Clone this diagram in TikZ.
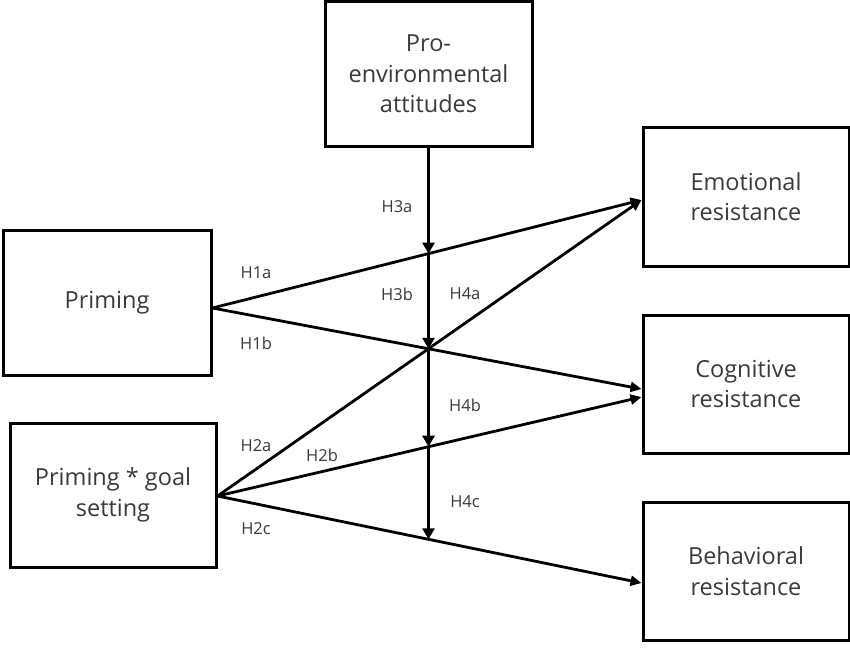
\documentclass[tikz,border=0pt]{standalone}
\usepackage{fontspec}
\setmainfont{Open Sans}
\usetikzlibrary{arrows.meta,intersections}
\definecolor{txt}{HTML}{3A3A3A}
\tikzset{
  box/.style={draw=black, line width=3pt, minimum width=#1, align=center, text=txt,
    font=\fontsize{23.5}{30.5}\selectfont, inner sep=0pt},
  lab/.style={text=txt, font=\fontsize{16.5}{18}\selectfont, inner sep=0pt},
  conn/.style={line width=2.8pt, -{Triangle[length=11pt,width=10pt]}},
  vconn/.style={line width=2.8pt, -{Triangle[length=11pt,width=12pt]}}
}
\begin{document}
\begin{tikzpicture}[x=1pt,y=-1pt]
\useasboundingbox (0,0) rectangle (850,658);
% boxes
\node[box=207pt, minimum height=144pt] (env) at (428.5,74) {Pro-\\environmental\\attitudes};
\node[box=208pt, minimum height=145pt] (prim) at (107,302.5) {Priming};
\node[box=206pt, minimum height=144pt] (goal) at (113,495) {Priming * goal\\setting};
\node[box=206pt, minimum height=139pt] (emo) at (746,196.5) {Emotional\\resistance};
\node[box=206pt, minimum height=138pt] (cog) at (746,384) {Cognitive\\resistance};
\node[box=206pt, minimum height=138pt] (beh) at (746,571) {Behavioral\\resistance};
% anchor points
\coordinate (ps) at (prim.east |- 0,308);
\coordinate (gs) at (goal.east |- 0,496);
\coordinate (emoT) at (emo.west |- 0,200);
\coordinate (cogT1) at (cog.west |- 0,389);
\coordinate (cogT2) at (cog.west |- 0,397);
\coordinate (behT) at (beh.west |- 0,583);
% paths for intersections
\path[name path=vert] (env.south) -- ++(0,450);
\path[name path=h1a] (ps) -- (emoT);
\path[name path=h1b] (ps) -- (cogT1);
\path[name path=h2b] (gs) -- (cogT2);
\path[name path=h2c] (gs) -- (behT);
\path[name intersections={of=vert and h1a, by=c1}];
\path[name intersections={of=vert and h1b, by=c2}];
\path[name intersections={of=vert and h2b, by=c3}];
\path[name intersections={of=vert and h2c, by=c4}];
% connectors
\draw[conn] (ps) -- (emoT);
\draw[conn] (ps) -- (cogT1);
\draw[conn] (gs) -- (emoT);
\draw[conn] (gs) -- (cogT2);
\draw[conn] (gs) -- (behT);
\draw[vconn] (env.south) -- (c1);
\draw[vconn] (c1) -- (c2);
\draw[vconn] (c2) -- (c3);
\draw[vconn] (c3) -- (c4);
% labels
\node[lab] (l3a) at (397,207) {H3a};
\node[lab] (l1a) at (256,273) {H1a};
\node[lab] (l3b) at (397,294) {H3b};
\node[lab] (l4a) at (465,294) {H4a};
\node[lab] (l1b) at (256,343) {H1b};
\node[lab] (l4b) at (465,405) {H4b};
\node[lab] (l2a) at (256,446) {H2a};
\node[lab] (l2b) at (322,455) {H2b};
\node[lab] (l4c) at (465,502) {H4c};
\node[lab] (l2c) at (256,529) {H2c};
\end{tikzpicture}
\end{document}
